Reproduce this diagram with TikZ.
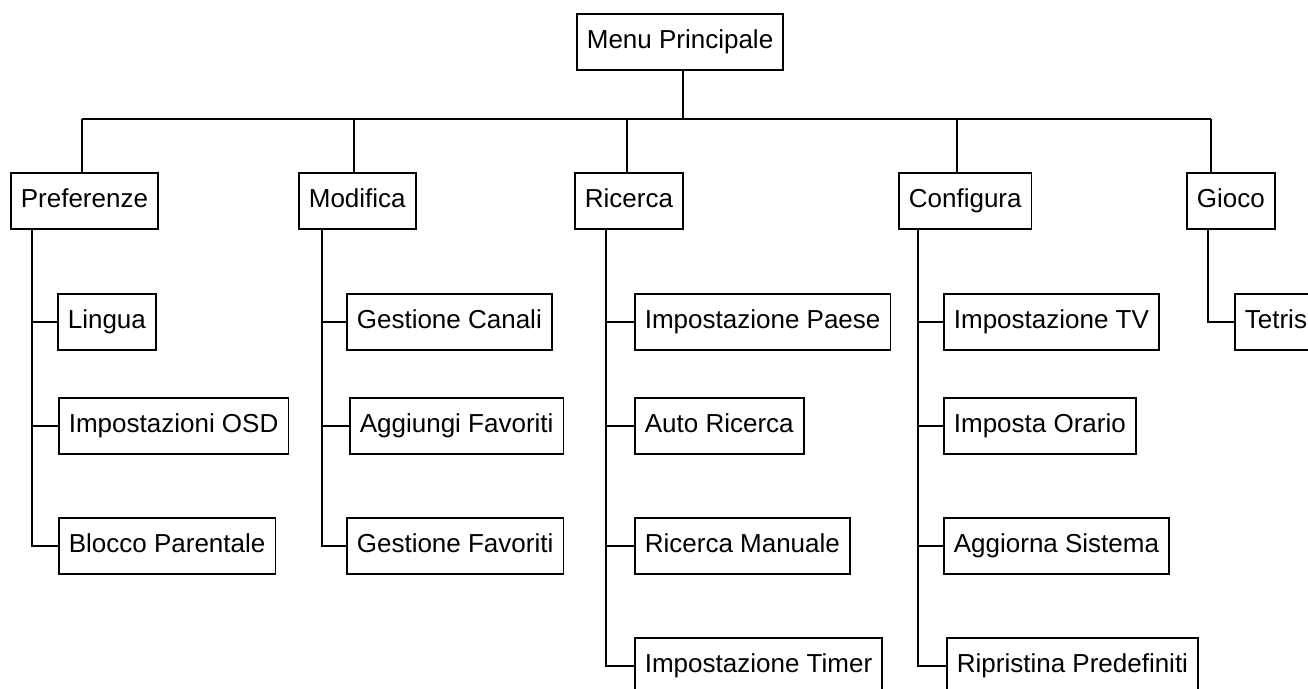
\documentclass[tikz,border=0pt]{standalone}
\usepackage{fontspec}
\setmainfont{Liberation Sans}
\begin{document}
\begin{tikzpicture}[x=1pt,y=-1pt,
  box/.style={draw=black,line width=1.7pt,fill=white,rectangle,anchor=north west,
    minimum height=56pt,inner xsep=10pt,inner ysep=0pt,
    text height=19pt,text depth=5pt,
    font=\fontsize{26}{30}\selectfont},
  link/.style={draw=black,line width=1.7pt}]
\useasboundingbox (0,0) rectangle (1308,688);
\clip (0,0) rectangle (1308,688);
% root
\node[box] (root) at (576,13) {Menu Principale};
% level 1
\node[box] (pref) at (10,172) {Preferenze};
\node[box] (mod) at (298,172) {Modifica};
\node[box] (ric) at (574,172) {Ricerca};
\node[box] (conf) at (898,172) {Configura};
\node[box] (gioco) at (1186,172) {Gioco};
% Preferenze children
\node[box] (lingua) at (57,293) {Lingua};
\node[box] (osd) at (58,397) {Impostazioni OSD};
\node[box] (blocco) at (58,517) {Blocco Parentale};
% Modifica children
\node[box] (canali) at (346,293) {Gestione Canali};
\node[box] (aggfav) at (349,397) {Aggiungi Favoriti};
\node[box] (gesfav) at (346,517) {Gestione Favoriti};
% Ricerca children
\node[box] (paese) at (634,293) {Impostazione Paese};
\node[box] (auto) at (634,397) {Auto Ricerca};
\node[box] (manuale) at (634,517) {Ricerca Manuale};
\node[box] (timer) at (634,637) {Impostazione Timer};
% Configura children
\node[box] (tv) at (943,293) {Impostazione TV};
\node[box] (orario) at (943,397) {Imposta Orario};
\node[box] (sistema) at (943,517) {Aggiorna Sistema};
\node[box] (ripristina) at (946,637) {Ripristina Predefiniti};
% Gioco child
\node[box] (tetris) at (1234,293) {Tetris};
% bar and drops
\coordinate (barR) at (683,119);
\coordinate (dP) at (82,119);
\coordinate (dM) at (354,119);
\coordinate (dR) at (627,119);
\coordinate (dC) at (957,119);
\coordinate (dG) at (1211,119);
\draw[link] (root.south -| barR) -- (barR);
\draw[link] (dP) -- (dG);
\draw[link] (dP) -- (dP |- pref.north);
\draw[link] (dM) -- (dM |- mod.north);
\draw[link] (dR) -- (dR |- ric.north);
\draw[link] (dC) -- (dC |- conf.north);
\draw[link] (dG) -- (dG |- gioco.north);
% sub trunks
\coordinate (sP) at (32,0);
\coordinate (sM) at (322,0);
\coordinate (sR) at (606,0);
\coordinate (sC) at (918,0);
\coordinate (sG) at (1208,0);
\draw[link] (sP |- pref.south) |- (blocco.west);
\draw[link] (sP |- lingua.west) -- (lingua.west);
\draw[link] (sP |- osd.west) -- (osd.west);
\draw[link] (sM |- mod.south) |- (gesfav.west);
\draw[link] (sM |- canali.west) -- (canali.west);
\draw[link] (sM |- aggfav.west) -- (aggfav.west);
\draw[link] (sR |- ric.south) |- (timer.west);
\draw[link] (sR |- paese.west) -- (paese.west);
\draw[link] (sR |- auto.west) -- (auto.west);
\draw[link] (sR |- manuale.west) -- (manuale.west);
\draw[link] (sC |- conf.south) |- (ripristina.west);
\draw[link] (sC |- tv.west) -- (tv.west);
\draw[link] (sC |- orario.west) -- (orario.west);
\draw[link] (sC |- sistema.west) -- (sistema.west);
\draw[link] (sG |- gioco.south) |- (tetris.west);
\end{tikzpicture}
\end{document}
